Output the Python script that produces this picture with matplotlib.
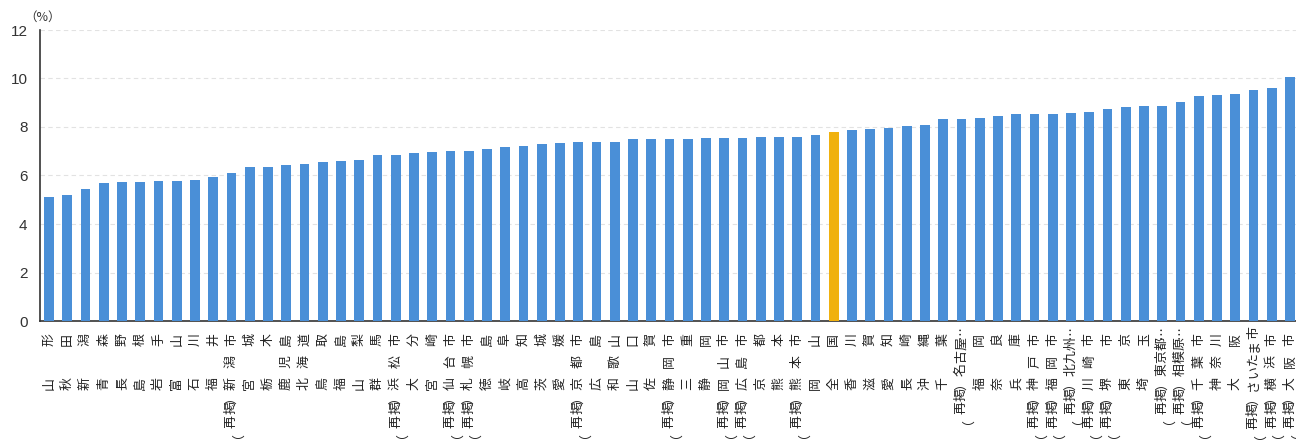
import matplotlib
matplotlib.use("Agg")
import matplotlib.pyplot as plt
from matplotlib.transforms import ScaledTranslation

# Rate (%) by prefecture / designated city, sorted ascending
labels = [
    "山形", "秋田", "新潟", "青森", "長野", "島根", "岩手", "富山", "石川", "福井",
    "（再掲）新潟市", "宮城", "栃木", "鹿児島", "北海道", "鳥取", "福島", "山梨", "群馬",
    "（再掲）浜松市", "大分", "宮崎", "（再掲）仙台市", "（再掲）札幌市", "徳島", "岐阜",
    "高知", "茨城", "愛媛", "（再掲）京都市", "広島", "和歌山", "山口", "佐賀",
    "（再掲）静岡市", "三重", "静岡", "（再掲）岡山市", "（再掲）広島市", "京都", "熊本",
    "（再掲）熊本市", "岡山", "全国", "香川", "滋賀", "愛知", "長崎", "沖縄", "千葉",
    "（再掲）名古屋…", "福岡", "奈良", "兵庫", "（再掲）神戸市", "（再掲）福岡市",
    "（再掲）北九州…", "（再掲）川崎市", "（再掲）堺市", "東京", "埼玉",
    "（再掲）東京都…", "（再掲）相模原…", "（再掲）千葉市", "神奈川", "大阪",
    "（再掲）さいたま市", "（再掲）横浜市", "（再掲）大阪市",
]
values = [
    5.13, 5.20, 5.44, 5.68, 5.72, 5.75, 5.77, 5.79, 5.81, 5.93,
    6.12, 6.34, 6.36, 6.45, 6.46, 6.54, 6.58, 6.65, 6.85,
    6.85, 6.93, 6.97, 7.01, 7.02, 7.11, 7.18,
    7.20, 7.31, 7.35, 7.37, 7.38, 7.39, 7.49, 7.52,
    7.52, 7.52, 7.53, 7.55, 7.56, 7.59, 7.60,
    7.60, 7.68, 7.79, 7.89, 7.92, 7.96, 8.05, 8.07, 8.32,
    8.35, 8.37, 8.45, 8.54, 8.54, 8.55,
    8.59, 8.62, 8.73, 8.84, 8.87,
    8.88, 9.04, 9.28, 9.33, 9.35,
    9.51, 9.61, 10.05,
]
highlight = "全国"
y_ticks = [0, 2, 4, 6, 8, 10, 12]

PREFIX = "（再掲）"
DPI = 100
LABEL_PT = 9.3
EM_PX = LABEL_PT * DPI / 72        # one full-width character
SPREAD_PX = 21.7                   # pitch of spread-out short names
TOP_SPREAD_PX = 19                 # first (top) glyph centre below the axis
TOP_COMPACT_PX = 12
PREFIX_STEPS = [1.1, 1.9, 2.95, 3.7]   # ）掲再（ below the name's last glyph, in em


def label_slots(name):
    """Return (char, offset below axis in px) pairs, top glyph first.

    Names of up to three characters are padded to three slots and spread
    out; longer names are set solid."""
    prefix = PREFIX if name.startswith(PREFIX) else ""
    base = name[len(prefix):]
    spread = len(base) <= 3
    if len(base) == 2:
        base = base[0] + "　" + base[1]
    pitch = SPREAD_PX if spread else EM_PX
    y = TOP_SPREAD_PX if spread else TOP_COMPACT_PX
    slots = []
    for ch in reversed(base):
        slots.append((ch, y))
        y += 0.85 * EM_PX if ch == "…" else pitch
    last = slots[-1][1]
    for ch, step in zip(reversed(prefix), PREFIX_STEPS):
        slots.append((ch, last + step * EM_PX))
    return slots


cjk = ["Noto Sans CJK JP", "DejaVu Sans"]
blue = "#4A8FD7"
gold = "#F0B10E"

fig = plt.figure(figsize=(12.96, 4.4), dpi=DPI)
ax = fig.add_axes([40 / 1296, 119 / 440, 1256 / 1296, 291 / 440])

x = list(range(len(values)))
colors = [gold if lab == highlight else blue for lab in labels]
ax.bar(x, values, width=0.53, color=colors, zorder=3)

ax.set_xlim(-0.493, 68.33)
ax.set_ylim(0, 12)
ax.set_yticks(y_ticks)
ax.set_yticklabels([str(v) for v in y_ticks], family="Liberation Sans",
                   fontsize=11, color="#333333")
ax.tick_params(axis="y", length=0, pad=9)

# Vertical category labels, one glyph at a time, reading bottom to top
ax.set_xticks(x)
ax.set_xticklabels([])
ax.tick_params(axis="x", length=0)
base_tf = ax.get_xaxis_transform()
for xi, name in zip(x, labels):
    for ch, off in label_slots(name):
        if ch == "　":
            continue
        tf = base_tf + ScaledTranslation(0, -off / DPI, fig.dpi_scale_trans)
        ax.text(xi, 0, ch, transform=tf, rotation=90, ha="center", va="center",
                family=cjk, fontsize=LABEL_PT, color="#222222", clip_on=False)

ax.grid(axis="y", color="#e2e2e2", linestyle=(0, (4, 3)), linewidth=0.8, zorder=0)
for side in ("top", "right"):
    ax.spines[side].set_visible(False)
for side in ("left", "bottom"):
    ax.spines[side].set_color("#333333")
    ax.spines[side].set_linewidth(1.2)

fig.text(42.5 / 1296, 1 - 17 / 440, "（%）", family=cjk, fontsize=9,
         ha="center", va="center", color="#333333")

fig.savefig("out.png", dpi=DPI)
